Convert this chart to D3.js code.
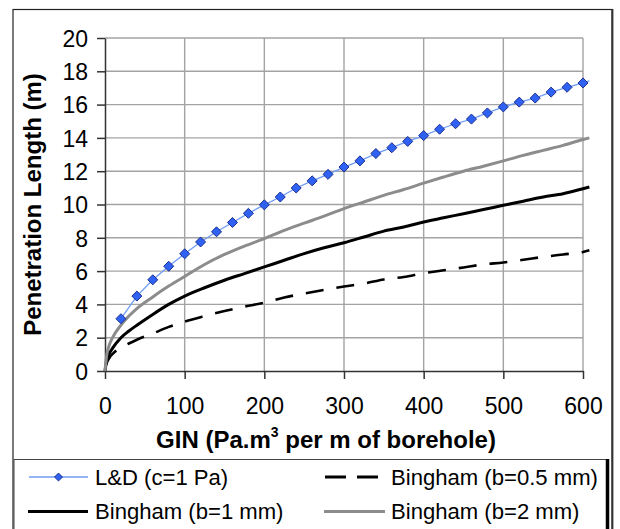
<!DOCTYPE html>
<html><head><meta charset="utf-8">
<script src="https://cdn.jsdelivr.net/npm/d3@7"></script>
<style>
html,body{margin:0;padding:0;background:#fff;}
svg{display:block;font-family:"Liberation Sans",Arial,sans-serif;}
</style></head>
<body>
<svg id="chart" width="620" height="529"></svg>
<script>
// ---------- data ----------
const xTicks = [0,100,200,300,400,500,600];
const yTicks = [0,2,4,6,8,10,12,14,16,18,20];

const ldX = [20,40,60,80,100,120,140,160,180,200,220,240,260,280,300,320,340,360,380,400,420,440,460,480,500,520,540,560,580,600,608];
const ldY = [3.14,4.50,5.48,6.29,7.04,7.75,8.36,8.92,9.47,9.98,10.45,10.99,11.42,11.81,12.25,12.62,13.06,13.41,13.79,14.14,14.52,14.85,15.13,15.50,15.86,16.15,16.39,16.75,17.04,17.30,17.42];

const bX = [0,2,5,10,20,30,40,60,80,100,125,150,175,200,225,250,275,300,325,350,375,400,425,450,475,500,525,550,575,600,608];
const b05 = [0,0.45,0.75,1.05,1.4,1.65,1.88,2.25,2.65,2.97,3.3,3.6,3.87,4.1,4.42,4.65,4.87,5.08,5.25,5.5,5.65,5.87,6.05,6.22,6.4,6.52,6.68,6.85,7.0,7.15,7.25];
const b1  = [0,0.6,1.0,1.4,2.0,2.4,2.75,3.4,4.0,4.5,5.0,5.45,5.85,6.25,6.65,7.05,7.4,7.7,8.05,8.4,8.65,8.95,9.2,9.45,9.7,9.95,10.2,10.45,10.65,10.95,11.05];
const b2  = [0,0.9,1.5,2.05,2.75,3.3,3.75,4.45,5.1,5.68,6.4,7.0,7.5,7.95,8.45,8.88,9.3,9.75,10.15,10.55,10.9,11.28,11.65,12.0,12.3,12.62,12.95,13.25,13.55,13.9,14.0];

const legendLabels = ["L&D (c=1 Pa)","Bingham (b=0.5 mm)","Bingham (b=1 mm)","Bingham (b=2 mm)"];

// ---------- layout ----------
const svg = d3.select("#chart");
const L = 105, R = 583, T = 38, B = 371;
const x = d3.scaleLinear().domain([0,600]).range([L,R]);
const y = d3.scaleLinear().domain([0,20]).range([B,T]);

// outer frame
svg.append("rect").attr("x",13).attr("y",9.5).attr("width",599).attr("height",540)
  .attr("fill","none").attr("stroke","#222").attr("stroke-width",1.2);
svg.append("line").attr("x1",612.5).attr("x2",612.5).attr("y1",9).attr("y2",529)
  .attr("stroke","#333").attr("stroke-width",1.8);

// gridlines
const gridColor = "#a3a3a3";
svg.append("g").selectAll("line").data(yTicks.filter(d=>d>0)).join("line")
  .attr("x1",L).attr("x2",R).attr("y1",d=>y(d)).attr("y2",d=>y(d))
  .attr("stroke",gridColor).attr("stroke-width",1.4);
svg.append("g").selectAll("line").data(xTicks.filter(d=>d>0)).join("line")
  .attr("x1",d=>x(d)).attr("x2",d=>x(d)).attr("y1",T).attr("y2",B)
  .attr("stroke",gridColor).attr("stroke-width",1.4);

// axes
const yAxis = svg.append("g").attr("transform",`translate(${L},0)`)
  .call(d3.axisLeft(y).tickValues(yTicks).tickSize(8).tickPadding(9).tickSizeOuter(0));
const xAxis = svg.append("g").attr("transform",`translate(0,${B})`)
  .call(d3.axisBottom(x).tickValues(xTicks).tickSize(8).tickPadding(19).tickSizeOuter(0));
[yAxis,xAxis].forEach(g=>{
  g.select(".domain").attr("stroke","#333").attr("stroke-width",1.5);
  g.selectAll(".tick line").attr("stroke","#333").attr("stroke-width",1.5);
  g.selectAll(".tick text").attr("font-size",23).attr("fill","#000")
    .attr("font-family","'Liberation Sans',Arial,sans-serif");
});
yAxis.selectAll(".tick text").attr("dy","0.36em").attr("x",-17);
xAxis.selectAll(".tick text").attr("dy","0.71em");

// axis titles
svg.append("text").attr("transform",`translate(41,${(T+B)/2}) rotate(-90)`)
  .attr("text-anchor","middle").attr("font-weight","bold").attr("font-size",24)
  .text("Penetration Length (m)");
const xt = svg.append("text").attr("x",326).attr("y",448)
  .attr("text-anchor","middle").attr("font-weight","bold").attr("font-size",24);
xt.append("tspan").text("GIN (Pa.m");
xt.append("tspan").attr("font-size",14).attr("dy",-11).text("3");
xt.append("tspan").attr("dy",11).text(" per m of borehole)");

// series
const lineGen = d3.line().x(d=>x(d[0])).y(d=>y(d[1]));
const smooth = d3.line().x(d=>x(d[0])).y(d=>y(d[1])).curve(d3.curveMonotoneX);

svg.append("path").datum(bX.map((v,i)=>[v,b05[i]]))
  .attr("d",smooth).attr("fill","none").attr("stroke","#000").attr("stroke-width",2.6)
  .attr("stroke-dasharray","18,13").attr("stroke-dashoffset",-6);
svg.append("path").datum(bX.map((v,i)=>[v,b1[i]]))
  .attr("d",smooth).attr("fill","none").attr("stroke","#000").attr("stroke-width",3);
svg.append("path").datum(bX.map((v,i)=>[v,b2[i]]))
  .attr("d",smooth).attr("fill","none").attr("stroke","#8c8c8c").attr("stroke-width",3);

const ldData = ldX.map((v,i)=>[v,ldY[i]]);
svg.append("path").datum(ldData).attr("d",lineGen)
  .attr("fill","none").attr("stroke","#6f9cf6").attr("stroke-width",1.3);
const diamond = d3.symbol().type(d3.symbolDiamond2).size(64);
svg.append("g").selectAll("path").data(ldData.filter(d=>d[0]<=600)).join("path")
  .attr("transform",d=>`translate(${x(d[0])},${y(d[1])})`)
  .attr("d",diamond).attr("fill","#2f62f3").attr("stroke","#1d2f8f").attr("stroke-width",1);

// legend
svg.append("rect").attr("x",14).attr("y",459.5).attr("width",593).attr("height",80)
  .attr("fill","#fff").attr("stroke","#444").attr("stroke-width",1);
svg.append("line").attr("x1",607.5).attr("x2",607.5).attr("y1",459).attr("y2",529)
  .attr("stroke","#000").attr("stroke-width",3.5);

const lg = svg.append("g").attr("font-size",22.1);
const rows = [477,511.5];
const items = [
  {x1:29,x2:88,ty:rows[0],tx:95,lab:legendLabels[0],stroke:"#6f9cf6",w:1.3,dash:null,marker:true},
  {x1:325,x2:379,ty:rows[0],tx:391,lab:legendLabels[1],stroke:"#000",w:2.8,dash:"21,11",marker:false},
  {x1:28,x2:88,ty:rows[1],tx:95,lab:legendLabels[2],stroke:"#000",w:3,dash:null,marker:false},
  {x1:324,x2:385,ty:rows[1],tx:391,lab:legendLabels[3],stroke:"#8c8c8c",w:3,dash:null,marker:false}
];
items.forEach(it=>{
  const ln = lg.append("line").attr("x1",it.x1).attr("x2",it.x2).attr("y1",it.ty).attr("y2",it.ty)
    .attr("stroke",it.stroke).attr("stroke-width",it.w);
  if(it.dash) ln.attr("stroke-dasharray",it.dash);
  if(it.marker) lg.append("path").attr("transform",`translate(${(it.x1+it.x2)/2},${it.ty})`)
    .attr("d",d3.symbol().type(d3.symbolDiamond2).size(40)).attr("fill","#2f62f3").attr("stroke","#1d2f8f");
  lg.append("text").attr("x",it.tx).attr("y",it.ty).attr("dy","0.36em").text(it.lab);
});
</script>
</body></html>
